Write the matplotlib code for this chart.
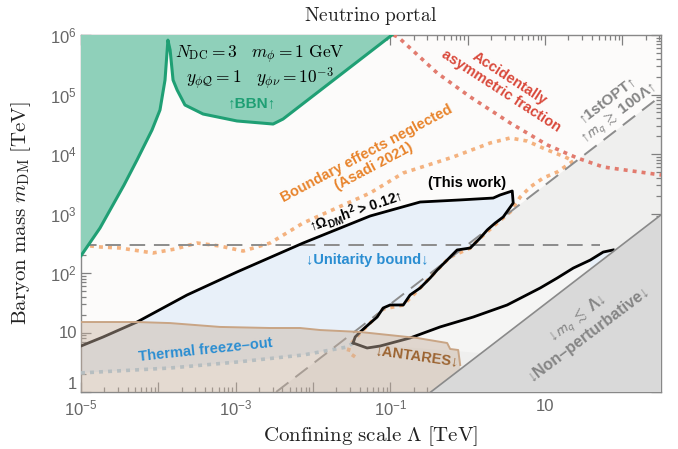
import numpy as np
import matplotlib
matplotlib.use("Agg")
import matplotlib.pyplot as plt
from matplotlib.ticker import FixedLocator, FuncFormatter, LogLocator, NullFormatter

plt.rcParams["font.family"] = ["Liberation Sans", "DejaVu Sans"]
plt.rcParams["mathtext.fontset"] = "custom"
plt.rcParams["mathtext.rm"] = "Liberation Sans"
plt.rcParams["mathtext.it"] = "Liberation Sans:italic:bold"
plt.rcParams["mathtext.bf"] = "Liberation Sans:bold"

# ==============================
# DATA (Lambda [TeV], m_DM [TeV])
# ==============================

xlim = (1e-5, 10 ** 2.5)
ylim = (1, 1e6)

bbn_lam = [1e-5, 1.76e-5, 3.60e-5, 5.30e-5, 8.28e-5, 1.05e-4, 1.22e-4, 1.33e-4,
           1.42e-4, 1.55e-4, 1.75e-4, 2.21e-4, 3.79e-4, 1.04e-3, 3.05e-3, 4.10e-3, 0.105]
bbn_m = [195, 570, 3010, 7930, 2.53e4, 5.49e4, 1.75e5, 8.2e5,
         5.6e5, 1.75e5, 1.19e5, 6.66e4, 4.70e4, 3.59e4, 3.19e4, 3.87e4, 1e6]

asym_lam = [0.109, 0.126, 0.403, 1.08, 3.55, 10.7, 26.1, 56.6, 318]
asym_m = [1e6, 9.25e5, 2.30e5, 9.1e4, 3.32e4, 1.42e4, 8570, 6050, 4440]

asadi_lam = [1e-5, 1.76e-5, 3.2e-5, 8.53e-5, 1.64e-4, 3.17e-4, 6.28e-4, 1.25e-3, 2.79e-3,
             7.45e-3, 0.0548, 0.147, 0.649, 1.95, 3.55, 5.89, 10.7, 18.2, 23.2,
             14.4, 9.48, 6.44, 4.78, 3.55, 2.41, 1.45, 1.08, 0.594, 0.403, 0.243,
             0.147, 0.0807, 0.0548, 0.0407, 0.0302, 0.0284, 0.035]
asadi_m = [296, 274, 263, 217, 253, 319, 284, 234, 319,
           692, 2210, 4800, 8910, 1.53e4, 1.86e4, 1.65e4, 1.17e4, 8910, 7620,
           4980, 3950, 2790, 1890, 1060, 692, 387, 263, 186, 112, 56,
           29, 24.8, 14.4, 9.8, 6.2, 4.7, 3.9]

# relic contour (this work): upper edge, corner, jagged edge down to hook
relic_lam = [1e-5, 1.93e-5, 5.30e-5, 2.35e-4, 1.04e-3, 7.45e-3, 0.0548, 0.243, 0.80,
             2.14, 2.63, 3.77, 3.88, 2.88, 2.27, 1.79, 1.45, 1.08, 0.731, 0.543,
             0.403, 0.327, 0.243, 0.180, 0.147, 0.0993, 0.0807, 0.0675, 0.0548,
             0.0407, 0.0351, 0.0330]
relic_m = [5.93, 8.4, 15.0, 42.7, 104, 319, 908, 1560, 1690,
           1820, 2050, 2390, 1500, 873, 692, 528, 387, 263, 244, 165,
           112, 82.4, 56, 42.7, 29, 29, 25.8, 18.2, 14.4,
           10.2, 8.4, 6.66]
# hook and lower branch inside the 1stOPT band
lower_lam = [0.0330, 0.0501, 0.0738, 0.180, 0.440, 1.18, 3.24, 8.67, 14.4,
             23.2, 38.5, 56.6, 76.2]
lower_m = [6.66, 5.49, 5.93, 8.09, 12.4, 18.2, 29, 56, 82.4,
           121, 165, 225, 244]

thermal_lam = [1e-5, 1.42e-4, 1.04e-3, 7.45e-3, 0.0276, 0.0330]
thermal_m = [2.09, 2.53, 3.19, 4.19, 5.71, 6.66]

antares_lam = [1e-5, 5.30e-5, 1.42e-4, 6.28e-4, 2.79e-3, 6.81e-3, 0.0124, 0.0407,
               0.222, 0.543, 0.594, 0.754, 0.80, 0.80]
antares_m = [15.0, 15.0, 14.4, 12.4, 11.9, 11.9, 11.0, 10.2,
             8.09, 6.66, 5.28, 5.08, 2.84, 1]

unitarity_lam = [1e-5, 51.8]
unitarity_m = [290, 290]

opt_lam = [1 / 300, 10 ** 2.5]      # m_q >~ 100 Lambda  (m = 300 Lambda)
opt_m = [1, 300 * 10 ** 2.5]
np_lam = [1 / 3, 10 ** 2.5]         # m_q <~ Lambda  (m = 3 Lambda)
np_m = [1, 3 * 10 ** 2.5]

# ==============================
# COLOURS
# ==============================

C_BG = "#fcfbfa"
C_BLUE = "#e8f0f9"
C_OPT = "#efefee"
C_LOWER = "#f5f5f4"
C_NP = "#d9d9d9"
C_BBN = "#8fd0ba"
C_BBN_EDGE = "#1f9f74"
C_ANT = "#c8b2a0"
C_ANT_EDGE = "#c9a585"
C_ORANGE = "#f4b27f"
C_RED = "#e27b6e"
C_THERM = "#a9c8dc"
DOTS = (0, (1.1, 1.4))

# ==============================
# PLOT
# ==============================

fig = plt.figure(figsize=(6.78, 4.49), dpi=100)
ax = fig.add_axes([81 / 678, 1 - 392 / 449, 580 / 678, 357 / 449])
ax.set_xscale("log")
ax.set_yscale("log")
ax.set_xlim(*xlim)
ax.set_ylim(*ylim)
ax.set_facecolor(C_BG)

# 1stOPT band
ax.fill(opt_lam + [opt_lam[1]], opt_m + [1], color=C_OPT, lw=0, zorder=1)

# viable (blue) region
ax.fill(relic_lam + thermal_lam[::-1], relic_m + thermal_m[::-1], color=C_BLUE, lw=0, zorder=2)

# lighter area below lower branch, closed along the m = 3 Lambda line
ax.fill(lower_lam + [1.5], lower_m + [4.5], color=C_LOWER, lw=0, zorder=2)
ax.fill(lower_lam[-3:] + [lower_lam[-3]], lower_m[-3:] + [3 * lower_lam[-3]],
        color=C_BLUE, lw=0, zorder=2)

# dotted contours
ax.plot(asadi_lam, asadi_m, color=C_ORANGE, lw=2.6, ls=DOTS, zorder=3)
ax.plot(asym_lam, asym_m, color=C_RED, lw=2.6, ls=DOTS, zorder=3)
ax.plot(thermal_lam, thermal_m, color=C_THERM, lw=2.6, ls=DOTS, zorder=3)

# dashed bounds
ax.plot(unitarity_lam, unitarity_m, color="#8c8c8c", lw=1.4, ls=(0, (8, 4.5)), zorder=4)
ax.plot(opt_lam, opt_m, color="#8c8c8c", lw=1.4, ls=(0, (8, 4.5)), zorder=4)

# relic contour
ax.plot(relic_lam, relic_m, color="black", lw=2.0, zorder=5, solid_joinstyle="round")
ax.plot(lower_lam, lower_m, color="black", lw=2.0, zorder=5, solid_joinstyle="round")

# ANTARES
ax.fill(antares_lam + [1e-5], antares_m + [1], facecolor=C_ANT, alpha=0.45, lw=0, zorder=6)
ax.plot(antares_lam[:-1], antares_m[:-1], color=C_ANT_EDGE, lw=1.4, zorder=6)

# non-perturbative
ax.fill(np_lam + [np_lam[1]], np_m + [1], color=C_NP, lw=0, zorder=7)
ax.plot(np_lam, np_m, color="#8a8a8a", lw=1.2, zorder=7)

# BBN
ax.fill(bbn_lam + [1e-5], bbn_m + [1e6], color=C_BBN, lw=0, zorder=8)
ax.plot(bbn_lam, bbn_m, color=C_BBN_EDGE, lw=2.2, zorder=8, solid_joinstyle="round")

# ==============================
# AXES
# ==============================

ax.xaxis.set_major_locator(FixedLocator(10.0 ** np.arange(-5, 3)))
ax.xaxis.set_minor_locator(LogLocator(base=10, subs=np.arange(2, 10), numticks=50))
ax.yaxis.set_major_locator(FixedLocator(10.0 ** np.arange(0, 7)))
ax.yaxis.set_minor_locator(LogLocator(base=10, subs=np.arange(2, 10), numticks=50))
ax.xaxis.set_minor_formatter(NullFormatter())
ax.yaxis.set_minor_formatter(NullFormatter())


def fmt_x(v, pos):
    e = int(round(np.log10(v)))
    if e % 2 == 0:
        return ""
    if e == 1:
        return "10"
    return r"$10^{%d}$" % e


def fmt_y(v, pos):
    e = int(round(np.log10(v)))
    if e == 0:
        return "1"
    if e == 1:
        return "10"
    return r"$10^{%d}$" % e


ax.xaxis.set_major_formatter(FuncFormatter(fmt_x))
ax.yaxis.set_major_formatter(FuncFormatter(fmt_y))
ax.tick_params(which="both", direction="in", top=True, right=True, color="#808080",
               labelcolor="#666666", labelsize=12, width=0.9)
ax.tick_params(which="major", length=7, pad=3)
ax.tick_params(which="minor", length=3.5)
ax.tick_params(axis="x", which="major", pad=5)
for s in ax.spines.values():
    s.set_color("#888888")
    s.set_linewidth(1.0)

ax.set_xlabel(r"$\mathrm{Confining\ scale}\ \Lambda\ \mathrm{[TeV]}$", fontsize=15,
              math_fontfamily="cm", color="#222222")
ax.set_ylabel(r"$\mathrm{Baryon\ mass}\ m_{\mathrm{DM}}\ \mathrm{[TeV]}$", fontsize=15,
              math_fontfamily="cm", color="#222222")
ax.xaxis.set_label_coords(0.5, -0.09)
ax.yaxis.set_label_coords(-0.082, 0.5)
ax.set_title(r"$\mathrm{Neutrino\ portal}$", fontsize=14, math_fontfamily="cm",
             color="#222222", pad=10)

# lift the "1" label off the corner, as in the original
fig.canvas.draw()
ax.yaxis.get_major_ticks()[0].label1.set_verticalalignment("bottom")

# ==============================
# ANNOTATIONS
# ==============================

T = ax.transAxes
ax.text(0.309, 0.945, r"$N_{\rm DC}=3\quad m_\phi=1\ {\rm GeV}$", transform=T,
        ha="center", va="center", fontsize=12.5, math_fontfamily="cm", zorder=10)
ax.text(0.309, 0.878, r"$y_{\phi\mathcal{Q}}=1\quad y_{\phi\nu}=10^{-3}$", transform=T,
        ha="center", va="center", fontsize=12.5, math_fontfamily="cm", zorder=10)
ax.text(0.295, 0.810, "↑BBN↑", transform=T, ha="center", va="center", fontsize=11,
        fontweight="bold", color="#1f9f74", zorder=10)
ax.text(0.731, 0.860, "Accidentally\nasymmetric fraction", transform=T, ha="center",
        va="center", fontsize=10.5, fontweight="bold", color="#d9493b", rotation=-33,
        linespacing=1.1, zorder=10)
ax.text(0.498, 0.650, "Boundary effects neglected\n(Asadi 2021)", transform=T,
        ha="center", va="center", fontsize=10.5, fontweight="bold", color="#e8842c",
        rotation=28, linespacing=1.1, zorder=10)
ax.text(0.666, 0.585, "(This work)", transform=T, ha="center", va="center",
        fontsize=10.5, fontweight="bold", color="black", zorder=10)
ax.text(0.474, 0.506, r"↑$\mathbf{\Omega_{DM}h^2}$ > 0.12↑", transform=T, ha="center",
        va="center", fontsize=10, fontweight="bold", color="black", rotation=19, zorder=10)
ax.text(0.493, 0.370, "↓Unitarity bound↓", transform=T, ha="center", va="center",
        fontsize=10.5, fontweight="bold", color="#2b8ed2", zorder=10)
ax.text(0.214, 0.118, "Thermal freeze–out", transform=T, ha="center", va="center",
        fontsize=10.5, fontweight="bold", color="#2b8ed2", rotation=6, zorder=10)
ax.text(0.579, 0.101, "↓ANTARES↓", transform=T, ha="center", va="center",
        fontsize=10.5, fontweight="bold", color="#9c6431", rotation=-8, zorder=10)
ax.text(0.918, 0.798, "↑1stOPT↑\n↑$m_q\\ \\gtrsim$ 100Λ↑", transform=T, ha="center",
        va="center", fontsize=11, fontweight="bold", color="#858585", rotation=37,
        linespacing=1.15, math_fontfamily="stixsans", zorder=10)
ax.text(0.864, 0.188, "↓$m_q\\ \\lesssim$ Λ↓\n↓Non–perturbative↓", transform=T,
        ha="center", va="center", fontsize=11.5, fontweight="bold", color="#858585",
        rotation=37, linespacing=1.15, math_fontfamily="stixsans", zorder=10)

fig.savefig("out.png", dpi=100)
